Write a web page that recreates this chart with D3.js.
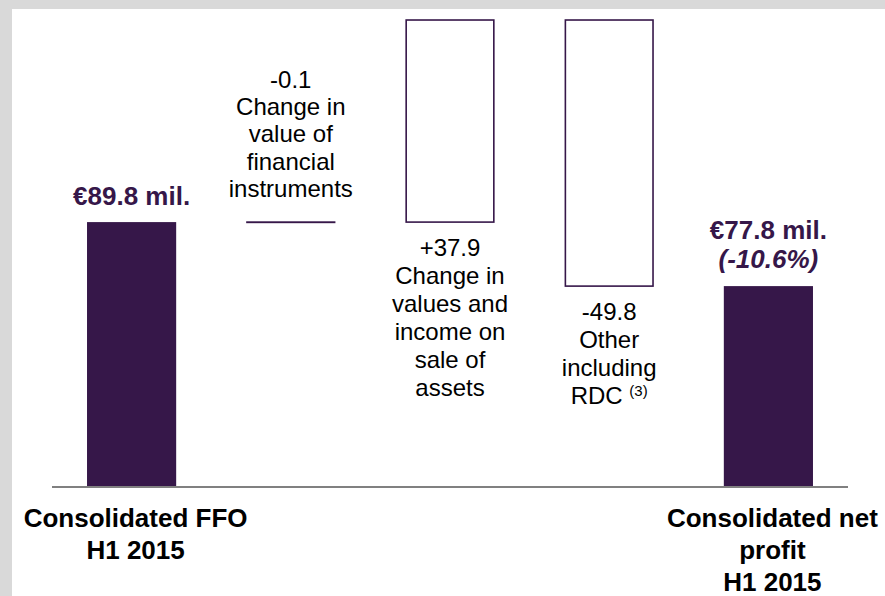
<!DOCTYPE html>
<html>
<head>
<meta charset="utf-8">
<script src="https://cdn.jsdelivr.net/npm/d3@7/dist/d3.min.js"></script>
<style>
  html, body { margin: 0; padding: 0; background: #d9d9d9; }
  svg { display: block; }
</style>
</head>
<body>
<svg id="chart" width="885" height="596"></svg>
<script>
// ---- data ----
const categories = ["ffo", "fin", "assets", "other", "net"];
const values = [89.8, -0.1, 37.9, -49.8, 77.8];
// bar extents as they appear in the (schematic) picture, in chart units
const barBottom = [0, 89.7, 89.8, 68.1, 0];
const barTop = [89.8, 89.8, 158.3, 158.3, 68.1];
const isTotal = [true, false, false, false, true];
const deltaLabels = ["", "-0.1", "+37.9", "-49.8", ""];
const deltaLines = [
  [],
  ["Change in", "value of", "financial", "instruments"],
  ["Change in", "values and", "income on", "sale of", "assets"],
  ["Other", "including", "RDC"],
  []
];
const totalLabels = ["€89.8 mil.", "", "", "", "€77.8 mil."];
const totalSubLabels = ["", "", "", "", "(-10.6%)"];
const axisLabels = [
  ["Consolidated FFO", "H1 2015"],
  [], [], [],
  ["Consolidated net", "profit", "H1 2015"]
];
const footnote = ["", "", "", "(3)", ""];

// ---- layout ----
const W = 885, H = 596;
const purple = "#361749";
const svg = d3.select("#chart");

svg.append("rect").attr("x", 0).attr("y", 0).attr("width", W).attr("height", H).attr("fill", "#d9d9d9");
svg.append("rect").attr("x", 12).attr("y", 9).attr("width", W - 12).attr("height", H - 9).attr("fill", "#ffffff");

const x = d3.scaleBand().domain(categories).range([52, 848]).paddingInner(0.44).paddingOuter(0.22);
const y = d3.scaleLinear().domain([0, 160]).range([487, 15]);

const idx = d3.range(categories.length);

// bars
svg.append("g").selectAll("rect").data(idx).join("rect")
  .attr("x", i => x(categories[i]) + (isTotal[i] ? 0 : 0.75))
  .attr("width", i => x.bandwidth() - (isTotal[i] ? 0 : 1.5))
  .attr("y", i => y(barTop[i]))
  .attr("height", i => Math.max(0.3, y(barBottom[i]) - y(barTop[i])))
  .attr("fill", i => isTotal[i] ? purple : "#ffffff")
  .attr("stroke", i => isTotal[i] ? "none" : purple)
  .attr("stroke-width", 1.6);

// baseline
svg.append("line")
  .attr("x1", x.range()[0]).attr("x2", x.range()[1])
  .attr("y1", y(0)).attr("y2", y(0))
  .attr("stroke", "#808080").attr("stroke-width", 2);

const font = "'Liberation Sans', Arial, Helvetica, sans-serif";
const cx = i => x(categories[i]) + x.bandwidth() / 2;

// delta labels
const lh = 28;
idx.forEach(i => {
  if (isTotal[i]) return;
  const lines = [deltaLabels[i]].concat(deltaLines[i]);
  const g = svg.append("text")
    .attr("font-family", font).attr("font-size", 24).attr("fill", "#000")
    .attr("text-anchor", "middle");
  let y0;
  if (values[i] < 0 && Math.abs(values[i]) < 1) {
    // labels above the tiny bar
    y0 = y(barTop[i]) - 25 - (lines.length - 1) * 27.3;
    lines.forEach((t, k) => {
      g.append("tspan").attr("x", cx(i)).attr("y", y0 + k * 27.3).text(t);
    });
  } else {
    y0 = y(barBottom[i]) + 33.5;
    lines.forEach((t, k) => {
      const ts = g.append("tspan").attr("x", cx(i)).attr("y", y0 + k * lh).text(t);
      if (k === lines.length - 1 && footnote[i]) {
        ts.text(t + " ");
        g.append("tspan").attr("font-size", 15).attr("dy", -8).text(footnote[i]);
      }
    });
  }
});

// total value labels
idx.forEach(i => {
  if (!isTotal[i]) return;
  const top = y(barTop[i]);
  const hasSub = !!totalSubLabels[i];
  svg.append("text")
    .attr("font-family", font).attr("font-size", 26).attr("font-weight", "bold")
    .attr("fill", purple).attr("text-anchor", "middle")
    .attr("x", cx(i)).attr("y", top - 17 - (hasSub ? 30 : 0))
    .text(totalLabels[i]);
  if (hasSub) {
    svg.append("text")
      .attr("font-family", font).attr("font-size", 26).attr("font-weight", "bold")
      .attr("font-style", "italic")
      .attr("fill", purple).attr("text-anchor", "middle")
      .attr("x", cx(i)).attr("y", top - 18)
      .text(totalSubLabels[i]);
  }
});

// category labels under axis
idx.forEach(i => {
  const lines = axisLabels[i];
  if (!lines.length) return;
  const t = svg.append("text")
    .attr("font-family", font).attr("font-size", 26).attr("font-weight", "bold")
    .attr("fill", "#000").attr("text-anchor", "middle");
  lines.forEach((s, k) => {
    t.append("tspan").attr("x", cx(i) + 4).attr("y", y(0) + 40 + k * 32).text(s);
  });
});
</script>
</body>
</html>
